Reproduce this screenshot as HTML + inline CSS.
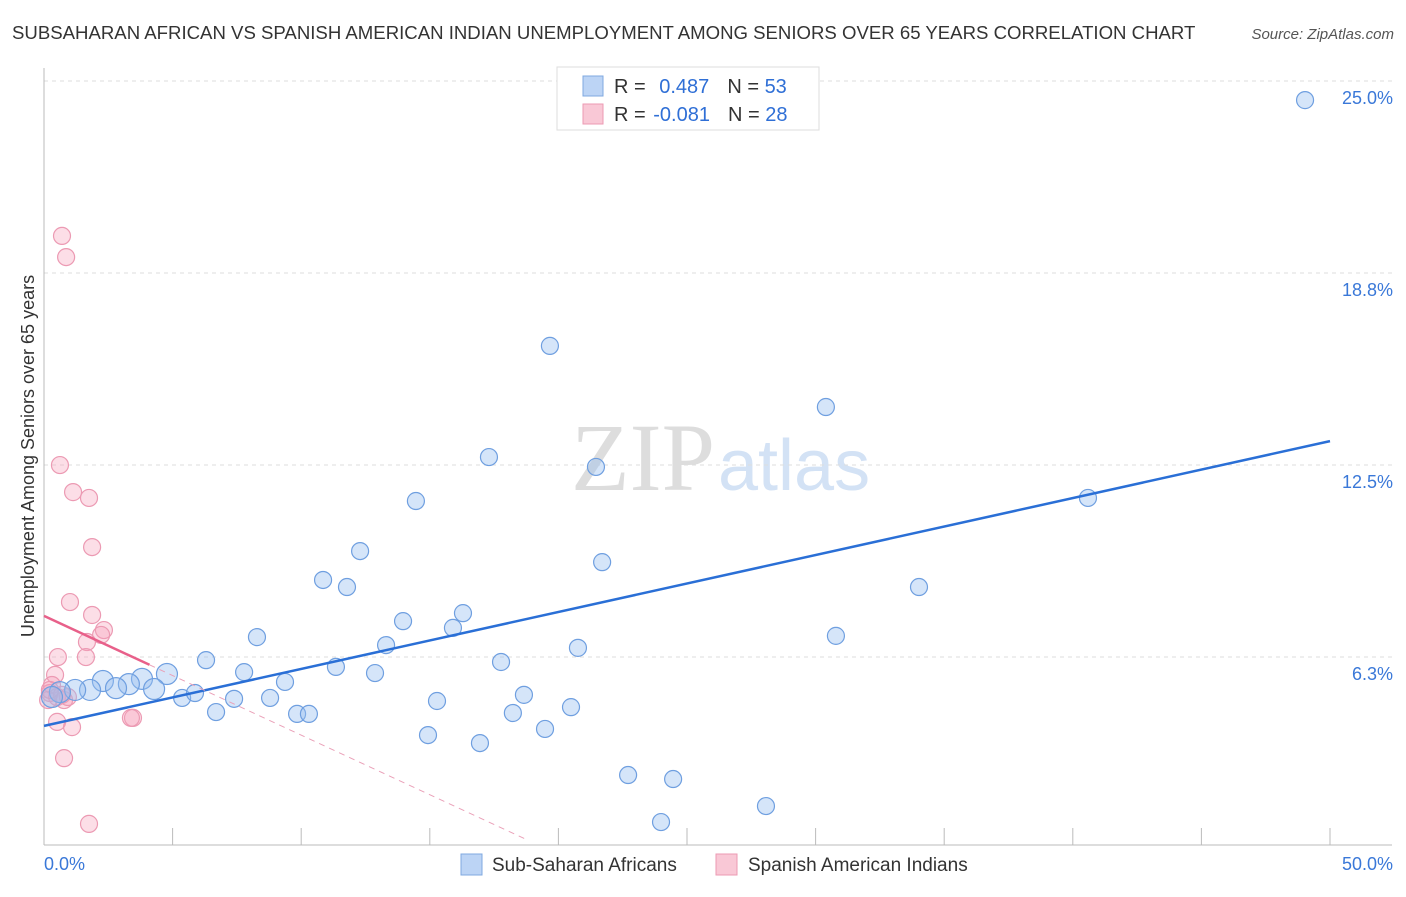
<!DOCTYPE html>
<html><head><meta charset="utf-8"><style>
body{margin:0;background:#fff;font-family:"Liberation Sans",sans-serif}
</style></head><body>
<svg width="1406" height="892" xmlns="http://www.w3.org/2000/svg" style="font-family:'Liberation Sans',sans-serif">
<text x="12" y="39" font-size="18.6" fill="#333">SUBSAHARAN AFRICAN VS SPANISH AMERICAN INDIAN UNEMPLOYMENT AMONG SENIORS OVER 65 YEARS CORRELATION CHART</text>
<text x="1394" y="39" font-size="15" fill="#555" font-style="italic" text-anchor="end">Source: ZipAtlas.com</text>
<text x="715" y="490" font-size="96" fill="#ddd" text-anchor="end" font-family="Liberation Serif">ZIP</text>
<text x="718" y="490" font-size="72" fill="#d3e2f5">atlas</text>
<g id="grid"></g><g id="axes"></g>
<text transform="translate(34,456) rotate(-90)" font-size="18" fill="#333" text-anchor="middle">Unemployment Among Seniors over 65 years</text>
<g id="marks"></g>
<rect x="557" y="67" width="262" height="63" fill="#fff" stroke="#ddd"/>
<rect x="583" y="76" width="20" height="20" fill="#bcd4f5" stroke="#7fa8e0"/>
<rect x="583" y="104" width="20" height="20" fill="#f9c8d6" stroke="#ec9ab3"/>
<text x="614" y="93" font-size="20" fill="#333">R = <tspan fill="#2f6fd6" dx="8">0.487</tspan><tspan dx="18">N = </tspan><tspan fill="#2f6fd6">53</tspan></text>
<text x="614" y="121" font-size="20" fill="#333">R = <tspan fill="#2f6fd6" dx="2">-0.081</tspan><tspan dx="18">N = </tspan><tspan fill="#2f6fd6">28</tspan></text>
<rect x="461" y="854" width="21" height="21" fill="#bcd4f5" stroke="#7fa8e0"/>
<text x="492" y="871" font-size="19" fill="#333">Sub-Saharan Africans</text>
<rect x="716" y="854" width="21" height="21" fill="#f9c8d6" stroke="#ec9ab3"/>
<text x="748" y="871" font-size="19" fill="#333">Spanish American Indians</text>
</svg>
<script>
const blueX=[49.03,19.67,30.40,17.30,21.46,40.59,14.46,12.29,21.70,10.85,11.78,34.02,16.29,13.96,15.90,30.79,8.28,13.30,20.76,6.30,17.77,11.35,7.78,12.87,4.78,3.81,9.37,3.30,2.29,2.80,4.28,1.79,1.21,0.62,18.66,5.37,5.87,7.39,8.79,15.28,0.31,20.49,6.69,18.23,9.84,10.30,19.48,14.93,16.95,22.71,24.46,28.07,23.99];
const blueY=[24.28,16.28,14.29,12.66,12.34,11.33,11.23,9.60,9.24,8.66,8.43,8.43,7.58,7.32,7.10,6.84,6.80,6.54,6.45,6.05,5.99,5.83,5.66,5.63,5.60,5.44,5.34,5.27,5.37,5.14,5.11,5.08,5.08,5.01,4.92,4.82,4.98,4.79,4.82,4.72,4.85,4.52,4.36,4.33,4.30,4.30,3.81,3.61,3.35,2.31,2.18,1.30,0.78];
const pinkX=[0.70,0.86,0.62,1.13,1.75,1.87,1.01,1.87,2.33,2.22,1.67,0.54,1.63,0.43,0.31,0.23,0.51,0.78,0.93,0.16,3.46,3.38,0.51,1.09,0.78,1.75,0.70,0.23];
const pinkY=[19.86,19.17,12.40,11.52,11.33,9.73,7.94,7.52,7.03,6.87,6.64,6.15,6.15,5.57,5.24,4.98,4.85,4.75,4.85,4.75,4.17,4.17,4.04,3.87,2.86,0.72,4.92,5.08];
const yTicks=[6.25,12.5,18.75,25];
const yTickLabels=["6.3%","12.5%","18.8%","25.0%"];
const blueTrend=[3.91,13.18];
const pinkTrend=[7.49,-0.388];
const X=v=>44+v*1286/50, Y=v=>846-v*30.72;
const NS="http://www.w3.org/2000/svg";
function mk(p,t,a){const e=document.createElementNS(NS,t);for(const k in a)e.setAttribute(k,a[k]);document.getElementById(p).appendChild(e);return e;}
yTicks.forEach((t,i)=>{
 const l=mk('grid','line',{x1:44,x2:1392,y1:Y(t)+3,y2:Y(t)+3,stroke:'#ddd','stroke-dasharray':'4,4'});
 
 
 const tx=mk('grid','text',{x:1393,y:Y(t)+26,'font-size':18,fill:'#3a78d8','text-anchor':'end'});
 tx.textContent=yTickLabels[i];
 
 
});
let ax=mk('axes','line',{x1:44,x2:44,y1:68,y2:845,stroke:'#bbb'});


ax=mk('axes','line',{x1:44,x2:1392,y1:845,y2:845,stroke:'#bbb'});


for(let i=0;i<=10;i++){const t=mk('axes','line',{x1:X(i*5),x2:X(i*5),y1:828,y2:845,stroke:'#bbb'});
 
 }
[["0.0%",44,'start'],["50.0%",1393,'end']].forEach(d=>{const t=mk('axes','text',{x:d[1],y:870,'font-size':18,fill:'#3a78d8','text-anchor':d[2]});t.textContent=d[0];
 
 });
pinkX.forEach((x,i)=>{const c=mk('marks','circle',{cx:X(x),cy:Y(pinkY[i]),r:8.5,fill:'rgba(245,160,185,0.35)',stroke:'#ec9ab3','stroke-width':1.2});
 
 });
blueX.forEach((x,i)=>{const c=mk('marks','circle',{cx:X(x),cy:Y(blueY[i]),r:(x<5?10.5:8.5),fill:'rgba(150,190,240,0.4)',stroke:'#6f9fe0','stroke-width':1.2});
 
 });
let tl=mk('marks','line',{x1:X(0),y1:Y(blueTrend[0]),x2:X(50),y2:Y(blueTrend[1]),stroke:'#2a6fd6','stroke-width':2.5});


tl=mk('marks','line',{x1:X(0),y1:Y(pinkTrend[0]),x2:X(4.1),y2:Y(pinkTrend[0]+pinkTrend[1]*4.1),stroke:'#e8608a','stroke-width':2.5});


tl=mk('marks','line',{x1:X(4.1),y1:Y(pinkTrend[0]+pinkTrend[1]*4.1),x2:X(18.7),y2:Y(pinkTrend[0]+pinkTrend[1]*18.7),stroke:'#eaa0b8','stroke-width':1,'stroke-dasharray':'6,5'});


</script>
</body></html>
